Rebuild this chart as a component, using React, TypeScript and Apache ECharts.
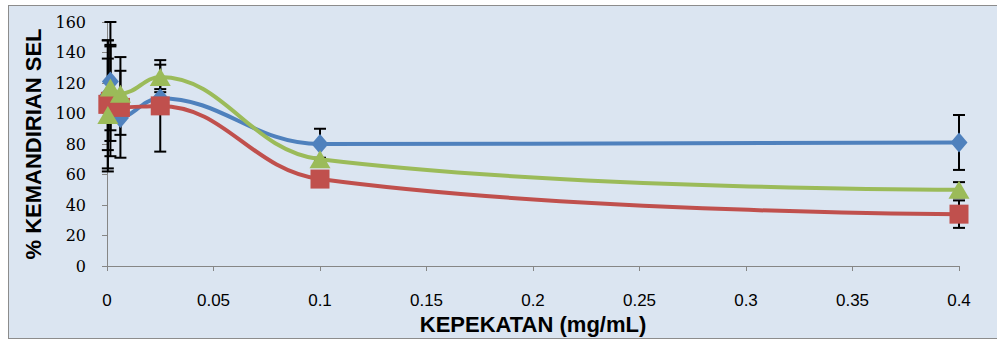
import React, { useEffect, useRef } from "react";
import * as echarts from "echarts";

// Concentrations (mg/mL) – four-fold dilution series
const concentrations = [0.00039, 0.0016, 0.0063, 0.025, 0.1, 0.4];

// % cell viability per series
const blueValues = [112, 121, 97, 110, 80, 81];
const redValues = [106, 108, 104, 105, 57, 34];
const greenValues = [99, 117, 113, 124, 70, 50];

// error (± half-range) per series
const blueErrors = [36, 39, 11, 4, 10, 18];
const redErrors = [42, 36, 33, 30, 1, 9];
const greenErrors = [37, 28, 15, 8, 1, 5];

const yTicks = { min: 0, max: 160, interval: 20 };
const xTicks = { min: 0, max: 0.4, interval: 0.05 };

const xTitle = "KEPEKATAN (mg/mL)";
const yTitle = "% KEMANDIRIAN SEL";

const BLUE = "#4F81BD";
const RED = "#C0504D";
const GREEN = "#9BBB59";

function points(values: number[]) {
  return concentrations.map((x, i) => [x, values[i]]);
}
function errorData(values: number[], errs: number[]) {
  return concentrations.map((x, i) => [x, values[i] - errs[i], values[i] + errs[i]]);
}

function renderError(params: any, api: any) {
  const x = api.value(0);
  const lo = api.value(1);
  const hi = api.value(2);
  const top = api.coord([x, hi]);
  const bot = api.coord([x, lo]);
  const hw = 6;
  const style = { stroke: "#000", lineWidth: 2 };
  return {
    type: "group",
    children: [
      { type: "line", shape: { x1: top[0], y1: top[1], x2: bot[0], y2: bot[1] }, style },
      { type: "line", shape: { x1: top[0] - hw, y1: top[1], x2: top[0] + hw, y2: top[1] }, style },
      { type: "line", shape: { x1: bot[0] - hw, y1: bot[1], x2: bot[0] + hw, y2: bot[1] }, style },
    ],
  };
}

function errorSeries(values: number[], errs: number[]) {
  return {
    type: "custom",
    renderItem: renderError,
    data: errorData(values, errs),
    encode: { x: 0, y: [1, 2] },
    clip: false,
    z: 1,
    silent: true,
  };
}

function lineSeries(name: string, values: number[], color: string, symbol: string, size: any) {
  return {
    name,
    type: "line",
    data: points(values),
    smooth: 0.4,
    symbol,
    symbolSize: size,
    showAllSymbol: true,
    lineStyle: { color, width: 4 },
    itemStyle: { color, borderWidth: 0 },
    z: 3,
  };
}

export default function App() {
  const ref = useRef<HTMLDivElement>(null);
  useEffect(() => {
    if (!ref.current) return;
    const chart = echarts.init(ref.current, undefined, { renderer: "svg" });
    const axisColor = "#868686";
    const titleFont = "'Liberation Sans', Arial, sans-serif";
    chart.setOption({
      animation: false,
      grid: {
        left: 107,
        right: 38,
        top: 22,
        bottom: 75,
        containLabel: false,
        outerBoundsMode: "none",
      },
      xAxis: {
        type: "value",
        min: xTicks.min,
        max: xTicks.max,
        interval: xTicks.interval,
        name: xTitle,
        nameLocation: "middle",
        nameGap: 45,
        nameTextStyle: {
          fontFamily: titleFont,
          fontWeight: "bold",
          fontSize: 22,
          color: "#000",
        },
        axisLine: { show: true, lineStyle: { color: axisColor, width: 1 } },
        axisTick: { show: true, length: 5, lineStyle: { color: axisColor } },
        splitLine: { show: false },
        axisLabel: {
          margin: 26,
          fontFamily: "'Liberation Sans', Arial, sans-serif",
          fontSize: 17,
          color: "#000",
          formatter: (v: number) => String(parseFloat(v.toFixed(2))),
        },
      },
      yAxis: {
        type: "value",
        min: yTicks.min,
        max: yTicks.max,
        interval: yTicks.interval,
        name: yTitle,
        nameLocation: "middle",
        nameGap: 62,
        nameTextStyle: {
          fontFamily: titleFont,
          fontWeight: "bold",
          fontSize: 22,
          color: "#000",
        },
        axisLine: { show: true, lineStyle: { color: axisColor, width: 1 } },
        axisTick: { show: true, length: 5, lineStyle: { color: axisColor } },
        splitLine: { show: false },
        axisLabel: {
          margin: 21,
          fontFamily: "'DejaVu Serif', serif",
          fontSize: 16,
          color: "#000",
        },
      },
      series: [
        errorSeries(blueValues, blueErrors),
        errorSeries(redValues, redErrors),
        errorSeries(greenValues, greenErrors),
        lineSeries("Blue", blueValues, BLUE, "diamond", [17, 20]),
        lineSeries("Red", redValues, RED, "rect", [19, 19]),
        lineSeries("Green", greenValues, GREEN, "triangle", [21, 18]),
      ],
    });
    return () => chart.dispose();
  }, []);

  return (
    <div style={{ position: "absolute", left: 0, top: 0, width: 997, height: 341, background: "#fff", overflow: "hidden" }}>
      <div
        style={{
          position: "absolute",
          left: 8,
          top: 5,
          width: 1010,
          height: 332,
          background: "#DBE5F1",
          border: "1px solid #8c8c8c",
        }}
      />
      <div ref={ref} style={{ position: "absolute", left: 0, top: 0, width: 997, height: 341 }} />
    </div>
  );
}
